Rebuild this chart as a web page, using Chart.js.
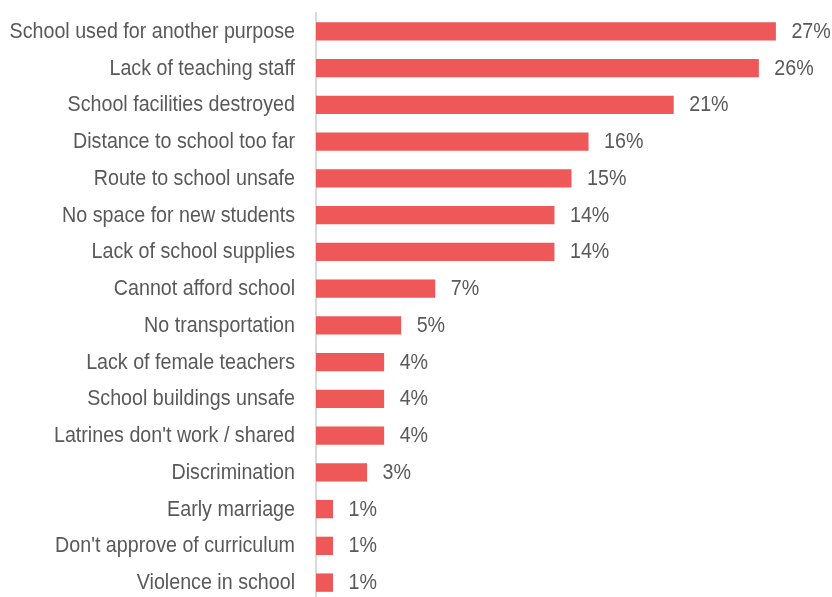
<!DOCTYPE html>
<html>
<head>
<meta charset="utf-8">
<script src="https://cdn.jsdelivr.net/npm/chart.js@4/dist/chart.umd.min.js"></script>
<style>
  html, body { margin: 0; padding: 0; background: #ffffff; overflow: hidden; }
  #wrap { position: relative; width: 832px; height: 601px; }
</style>
</head>
<body>
<div id="wrap"><canvas id="chart"></canvas></div>
<script>
// Reasons children are not attending school (% of responses)
const categories = [
  "School used for another purpose",
  "Lack of teaching staff",
  "School facilities destroyed",
  "Distance to school too far",
  "Route to school unsafe",
  "No space for new students",
  "Lack of school supplies",
  "Cannot afford school",
  "No transportation",
  "Lack of female teachers",
  "School buildings unsafe",
  "Latrines don't work / shared",
  "Discrimination",
  "Early marriage",
  "Don't approve of curriculum",
  "Violence in school"
];
const percentages = [27, 26, 21, 16, 15, 14, 14, 7, 5, 4, 4, 4, 3, 1, 1, 1];

const FONT = "'Liberation Sans', Arial, sans-serif";
const FONT_SIZE = 21.5;
const NARROW = 0.915;         // horizontal squeeze for a narrow face
const TEXT = '#595959';
const AXIS_LEFT = 316;        // width reserved for the category labels

// Draws condensed text with its baseline at (x, y)
function narrowText(ctx, text, x, y, align) {
  ctx.save();
  ctx.translate(x, y);
  ctx.scale(NARROW, 1);
  ctx.textAlign = align;
  ctx.textBaseline = 'alphabetic';
  ctx.fillText(text, 0, 0);
  ctx.restore();
}

// Category names to the left of the axis and percentages past each bar
const textLabels = {
  id: 'textLabels',
  afterDatasetsDraw(chart) {
    const ctx = chart.ctx;
    const yScale = chart.scales.y;
    const meta = chart.getDatasetMeta(0);
    ctx.save();
    ctx.font = `${FONT_SIZE}px ${FONT}`;
    ctx.fillStyle = TEXT;
    categories.forEach((name, i) => {
      const y = yScale.getPixelForValue(i);
      narrowText(ctx, name, yScale.right - 21, y + 6.5, 'right');
    });
    meta.data.forEach((bar, i) => {
      narrowText(ctx, percentages[i] + '%', bar.x + 15.5, bar.y + 6.5, 'left');
    });
    ctx.restore();
  }
};

new Chart(document.getElementById('chart'), {
  type: 'bar',
  data: {
    labels: categories,
    datasets: [{
      data: percentages,
      backgroundColor: '#EE5859',
      borderWidth: 0,
      barPercentage: 0.5,
      categoryPercentage: 1.0
    }]
  },
  options: {
    indexAxis: 'y',
    responsive: true,
    maintainAspectRatio: false,
    animation: false,
    layout: { padding: { top: 13, right: 5, bottom: 0, left: 0 } },
    plugins: {
      legend: { display: false },
      tooltip: { enabled: false }
    },
    scales: {
      x: {
        display: false,
        min: 0,
        max: 30
      },
      y: {
        grid: { display: false, drawTicks: false },
        border: { display: true, color: '#D9D9D9', width: 2 },
        ticks: { display: false },
        afterFit(scale) {
          scale.width = AXIS_LEFT;
          scale.paddingTop = 0;
          scale.paddingBottom = 0;
        }
      }
    }
  },
  plugins: [textLabels]
});
</script>
</body>
</html>
